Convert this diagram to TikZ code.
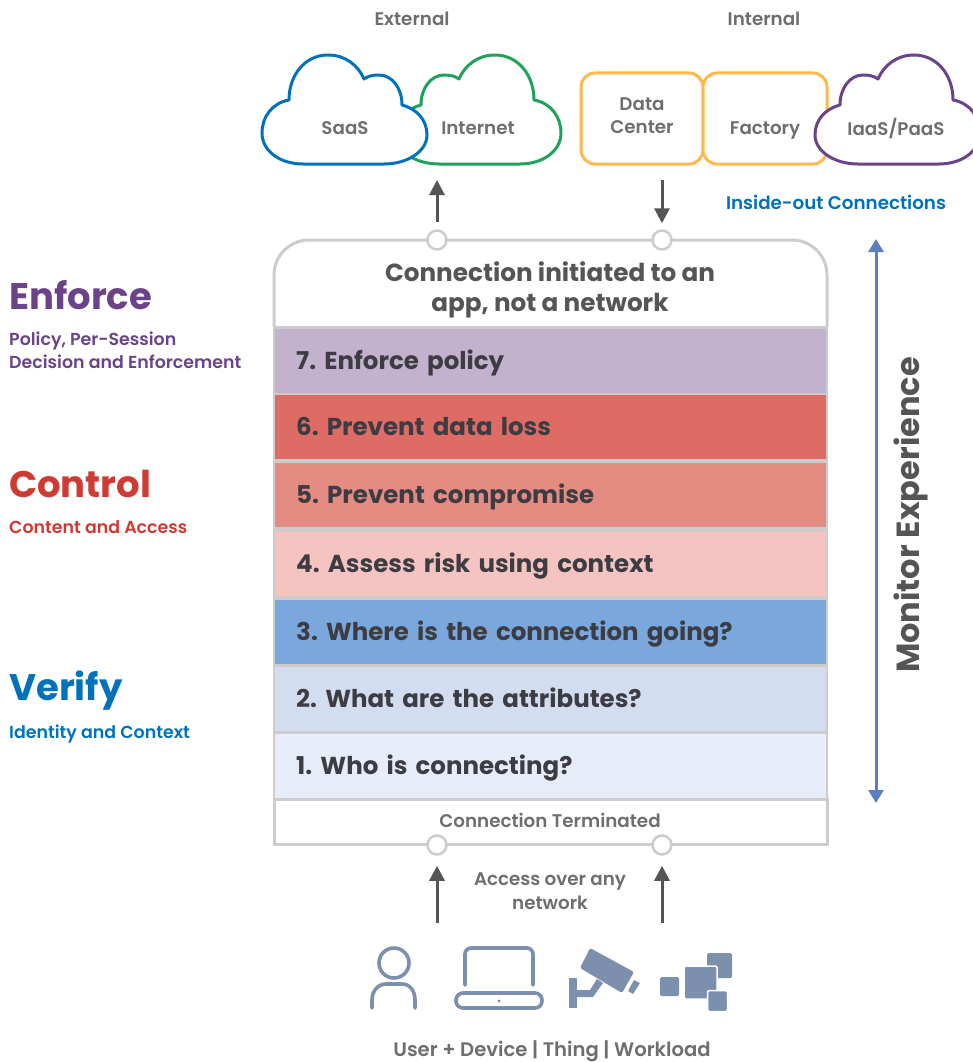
\documentclass[tikz,border=0pt]{standalone}
\usepackage{fontspec}
\setmainfont{Poppins}
\newfontfamily\mediumfont{Poppins SemiBold}
\usetikzlibrary{arrows.meta}

\definecolor{framegray}{HTML}{CFCBCB}
\definecolor{arrowgray}{HTML}{555555}
\definecolor{textgray}{HTML}{6E6E6E}
\definecolor{rowtext}{HTML}{3C3C42}
\definecolor{iconblue}{HTML}{7C90AD}
\definecolor{saasblue}{HTML}{0072BC}
\definecolor{netgreen}{HTML}{1FA25B}
\definecolor{siteyellow}{HTML}{FDB84E}
\definecolor{enforcepurple}{HTML}{6B4388}
\definecolor{controlred}{HTML}{CF3A33}
\definecolor{monitorblue}{HTML}{5B7FBE}

\tikzset{
  rowbox/.style={anchor=west,minimum width=551pt,minimum height=64pt,text width=509pt,inner xsep=21pt,inner ysep=0pt,align=left,text height=22pt,text depth=5pt,font=\fontsize{24.5}{28}\selectfont\bfseries\frenchspacing,text=rowtext},
  portdot/.style={shape=circle,draw=framegray,line width=2.5pt,fill=white,minimum size=19pt,inner sep=0pt},
  flowarrow/.style={-{Triangle[width=15pt,length=15pt]},draw=arrowgray,line width=3pt},
  sitebox/.style={draw=siteyellow,line width=3pt,fill=white,rounded corners=14pt,minimum height=91pt},
  smalllabel/.style={text=textgray,font=\fontsize{18.3}{24}\selectfont\mediumfont\frenchspacing,align=center},
  headword/.style={anchor=west,font=\fontsize{37}{40}\selectfont\bfseries},
  subword/.style={anchor=west,font=\fontsize{17.4}{23}\selectfont\mediumfont,align=left},
  iconline/.style={draw=iconblue,line width=3.6pt,line cap=round},
  iconfill/.style={fill=iconblue,rounded corners=1.5pt},
  cloudline/.style={line width=3pt,fill=white,line join=round}
}

\newcommand{\cloudshape}{(41,0) -- (122,0) .. controls (146,0) and (165,-13) .. (165,-29) .. controls (165,-44) and (155,-55) .. (140,-59) .. controls (140,-76) and (130,-89) .. (117,-89) .. controls (111,-89) and (106,-88) .. (102,-85) .. controls (96,-99) and (83,-109) .. (66,-109) .. controls (43,-109) and (27,-89) .. (27,-64) .. controls (10,-61) and (0,-47) .. (0,-31) .. controls (0,-13) and (18,0) .. (41,0) -- cycle}

\begin{document}
\begin{tikzpicture}[x=1pt,y=-1pt]
\useasboundingbox (0,0) rectangle (973,1062);
\fill[white] (0,0) rectangle (973,1062);

% top labels
\node (external) at (412,19) [smalllabel] {External};
\node (internal) at (764,19) [smalllabel] {Internal};

% clouds and sites
\draw[cloudline,draw=netgreen,xshift=561pt,yshift=-164pt,xscale=-1] \cloudshape;
\draw[cloudline,draw=saasblue,xshift=262pt,yshift=-164pt] \cloudshape;
\node (saas) at (345,128) [smalllabel] {SaaS};
\node (internet) at (478,128) [smalllabel] {Internet};
\node (datacenter) at (642,118.5) [sitebox,minimum width=122pt] {};
\node (factory) at (765,118.5) [sitebox,minimum width=124pt] {};
\node (dclabel) at (642,116) [smalllabel] {Data\\[-1pt]Center};
\node (factorylabel) at (765,131) [smalllabel] {Factory};
\draw[cloudline,draw=enforcepurple,xshift=980pt,yshift=-164pt,xscale=-1] \cloudshape;
\node (iaas) at (896,128) [smalllabel] {IaaS/PaaS};
\node (insideout) at (836,202) [smalllabel,text=saasblue] {Inside-out Connections};

% main frame
\draw[draw=framegray,line width=3pt,fill=white] (274,326) [rounded corners=35pt] -- (274,240) -- (827,240) -- (827,326);
\fill[framegray] (273,326) rectangle (828,799);
\draw[draw=framegray,line width=3pt,fill=white] (274,799) rectangle (827,844);
\node (header) at (550,290) [text=arrowgray,align=center,font=\fontsize{24.7}{30}\selectfont\bfseries] {Connection initiated to an\\app, not a network};

\node (row7) at (275,360.5) [rowbox,fill={rgb,255:red,195;green,178;blue,206}] {7. Enforce policy};
\node (row6) at (275,427) [rowbox,fill={rgb,255:red,222;green,107;blue,100}] {6. Prevent data loss};
\node (row5) at (275,495) [rowbox,fill={rgb,255:red,228;green,139;blue,130}] {5. Prevent compromise};
\node (row4) at (275,563.5) [rowbox,fill={rgb,255:red,245;green,196;blue,192}] {4. Assess risk using context};
\node (row3) at (275,631.5) [rowbox,fill={rgb,255:red,123;green,168;blue,220}] {3. Where is the connection going?};
\node (row2) at (275,698.5) [rowbox,fill={rgb,255:red,210;green,221;blue,240}] {2. What are the attributes?};
\node (row1) at (275,765.5) [rowbox,fill={rgb,255:red,230;green,237;blue,248}] {1. Who is connecting?};

\node (terminated) at (550,820) [smalllabel] {Connection Terminated};

% ports on the frame
\node (porttopl) at (437,240) [portdot] {};
\node (porttopr) at (662,240) [portdot] {};
\node (portbotl) at (437,845) [portdot] {};
\node (portbotr) at (662,845) [portdot] {};

% arrows
\coordinate (upend) at (437,180);
\coordinate (downstart) at (662,180);
\coordinate (accessl) at (437,923);
\coordinate (accessr) at (662,923);
\coordinate (monitortop) at (876,239);
\coordinate (monitorbot) at (876,803);
\draw[flowarrow,shorten <=7pt] (porttopl) -- (upend);
\draw[flowarrow,shorten >=6pt] (downstart) -- (porttopr);
\draw[flowarrow,shorten >=10pt] (accessl) -- (portbotl);
\draw[flowarrow,shorten >=10pt] (accessr) -- (portbotr);
\draw[{Triangle[width=15pt,length=13pt]}-{Triangle[width=15pt,length=13pt]},draw=monitorblue,line width=3pt] (monitortop) -- (monitorbot);
\node (monitor) at (911,515) [rotate=90,text=arrowgray,font=\fontsize{32}{36}\selectfont\bfseries] {Monitor Experience};

\node (access) at (550,891) [smalllabel] {Access over any\\network};

% left column
\node (enforce) at (9,295) [headword,inner sep=0pt,text=enforcepurple] {Enforce};
\node (enforcesub) at (9,350) [subword,inner sep=0pt,text=enforcepurple] {Policy, Per-Session\\Decision and Enforcement};
\node (control) at (9,484) [headword,inner sep=0pt,text=controlred] {Control};
\node (controlsub) at (9,527) [subword,inner sep=0pt,text=controlred] {Content and Access};
\node (verify) at (9,691) [headword,inner sep=0pt,text=saasblue] {Verify};
\node (verifysub) at (9,734) [subword,inner sep=0pt,text=saasblue] {Identity and Context};

% user
\draw[iconline] (394,963) circle (15);
\draw[iconline] (372,1008) -- (372,1000) .. controls (372,991) and (378,984) .. (386,984) -- (402,984) .. controls (410,984) and (415,991) .. (415,1000) -- (415,1008);
% laptop
\draw[iconline,rounded corners=6pt] (465,985) -- (465,948) -- (533,948) -- (533,985);
\draw[iconline,rounded corners=7pt] (456,993) rectangle (542,1008);
\fill[iconblue] (499,1001) circle (1.7);
% camera
\fill[iconfill] (590,948) -- (634,972) -- (622,993) -- (580,968) -- cycle;
\fill[iconfill,rounded corners=0.5pt] (634,980) -- (640,983) -- (633,994) -- (628,991) -- cycle;
\fill[iconblue] (569,978) rectangle (577,1008);
\fill[iconblue] (577,990) -- (590,990) -- (597,979) -- (603,983) -- (593,997) -- (577,997) -- cycle;
% workloads
\fill[iconfill] (707,953) rectangle (732,978);
\fill[iconfill] (660,977) rectangle (679,996);
\draw[iconfill,draw=white,line width=1.5pt] (684,966) rectangle (717,999);
\draw[iconfill,draw=white,line width=1.5pt] (707.5,990.5) rectangle (727.5,1011.5);

\node (sources) at (552,1051) [smalllabel,inner sep=0pt,font=\fontsize{19.6}{24}\selectfont\mediumfont] {User + Device | Thing | Workload};
\end{tikzpicture}
\end{document}
